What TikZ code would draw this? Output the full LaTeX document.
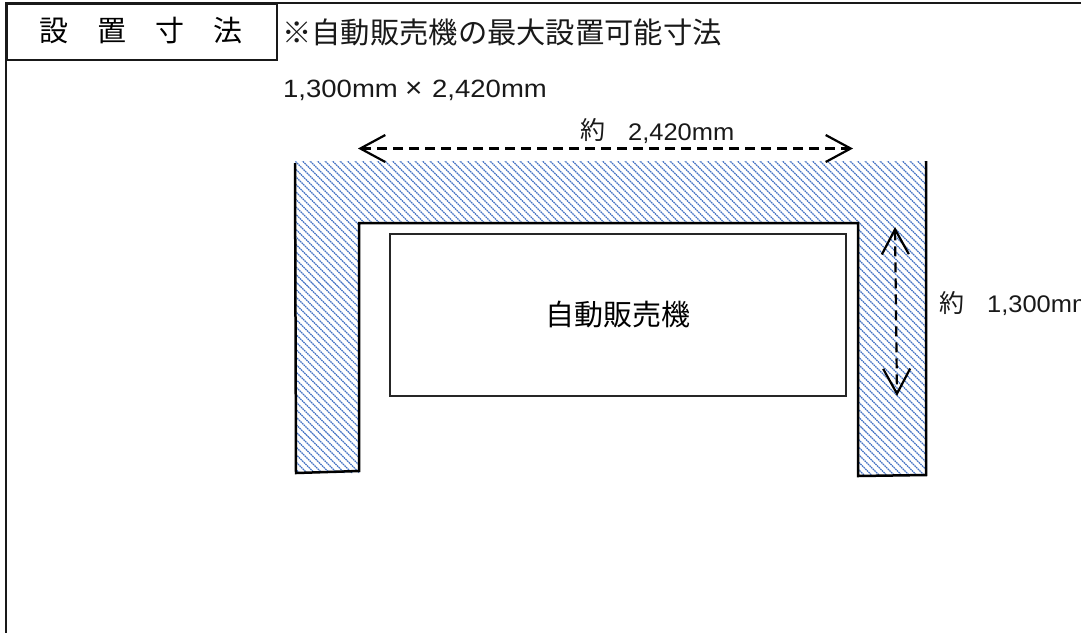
\documentclass[tikz,border=0pt]{standalone}
\usepackage{fontspec}
\setmainfont{Noto Sans CJK JP}
\newfontfamily\latinf[FakeStretch=1.06]{Liberation Sans}
\newfontfamily\latinw[FakeStretch=1.1]{Liberation Sans}
\usetikzlibrary{arrows.meta}
\definecolor{hatchblue}{HTML}{4472C4}
\tikzset{
  frameline/.style={line width=2pt,draw=black!90},
  wall/.style={line width=2.5pt,draw=black},
  dim/.style={line width=2.2pt,draw=black,dash pattern=on 10pt off 6pt,
    {Straight Barb[length=25pt,width=27pt,line width=2.2pt]}-{Straight Barb[length=25pt,width=27pt,line width=2.2pt]}},
  lab/.style={inner sep=0pt,anchor=base west,text=black!90},
}
\begin{document}
\begin{tikzpicture}[x=1pt,y=-1pt]
\useasboundingbox (0,0) rectangle (1081,633);
\begin{scope}
\clip (0,0) rectangle (1081,633);
\fill[white] (0,0) rectangle (1081,633);
% hatched wall
\begin{scope}
\clip (295,161) -- (926,161) -- (926,475) -- (858,475) -- (858,222) -- (359,222) -- (359,473) -- (295,473) -- cycle;
\foreach \i in {-400,-392.5,...,700}{
  \draw[hatchblue,line width=1.2pt,dash pattern=on 1.6pt off .7pt] (\i,-159) -- (\i+640,481);
}
\end{scope}
% frame
\coordinate (tl) at (6,3);
\coordinate (tr) at (1081,3);
\coordinate (bl) at (6,633);
\draw[frameline] (tr) -- (tl) -- (bl);
\node[draw=black!90,line width=2pt,minimum width=270pt,minimum height=56pt,inner sep=0pt,anchor=north west] (title) at (6,3) {};
\node[font=\fontsize{29}{29}\selectfont,inner sep=0pt] at (141,31) {設　置　寸　法};
\node[lab,font=\fontsize{29.3}{29}\selectfont] (note) at (282,43) {※自動販売機の最大設置可能寸法};
\node[lab,font=\fontsize{25}{25}\selectfont\latinw] (size) at (283,97) {1,300mm};
\node[lab,font=\fontsize{28}{28}\selectfont\latinf] (times) at (405,97) {×};
\node[lab,font=\fontsize{25}{25}\selectfont\latinw] (size2) at (432,97) {2,420mm};
% walls
\coordinate (w1) at (295,163); \coordinate (w2) at (296,473); \coordinate (w3) at (359,471);
\coordinate (w4) at (359,223); \coordinate (w5) at (858,223); \coordinate (w6) at (858,476);
\coordinate (w7) at (926,475); \coordinate (w8) at (926,161);
\draw[wall] (w1) -- (w2) -- (w3) -- (w4) -- (w5) -- (w6) -- (w7) -- (w8);
% machine
\node[draw=black!85,line width=1.8pt,minimum width=456pt,minimum height=162pt,inner sep=0pt,anchor=north west,font=\fontsize{29}{29}\selectfont] (vm) at (389,233) {自動販売機};
% dimensions
\coordinate (ha) at (358,148.5); \coordinate (hb) at (853,148.5);
\coordinate (va) at (895,227); \coordinate (vb) at (897,396);
\draw[dim] (ha) -- (hb);
\draw[dim] (va) -- (vb);
\node[lab,font=\fontsize{25}{25}\selectfont] (dw) at (580,139) {約};
\node[lab,font=\fontsize{24}{24}\selectfont\latinf] (dwn) at (628,140) {2,420mm};
\node[lab,font=\fontsize{25}{25}\selectfont] (dh) at (939,312) {約};
\node[lab,font=\fontsize{24}{24}\selectfont\latinf] (dhn) at (987,312) {1,300mm};
\end{scope}
\end{tikzpicture}
\end{document}
